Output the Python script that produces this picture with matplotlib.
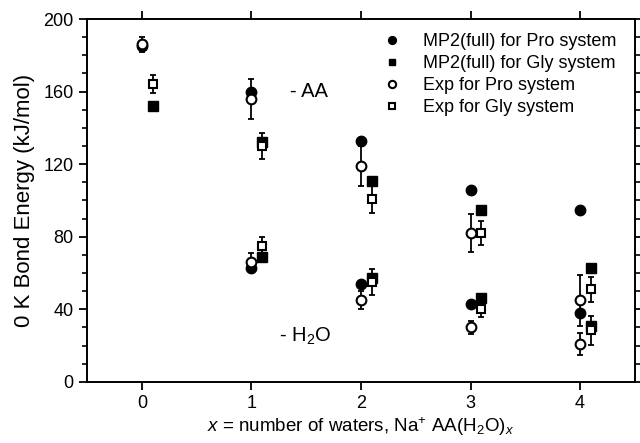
import numpy as np
import matplotlib
matplotlib.use('Agg')
import matplotlib.pyplot as plt
from matplotlib.ticker import MultipleLocator

plt.rcParams['font.family'] = ['Liberation Sans', 'DejaVu Sans']
plt.rcParams['mathtext.fontset'] = 'custom'
plt.rcParams['mathtext.rm'] = 'Liberation Sans'
plt.rcParams['mathtext.it'] = 'Liberation Sans:italic'

# number of waters
x = np.array([0, 1, 2, 3, 4])
gly_shift = 0.1

# loss of amino acid (upper set)
mp2_pro_aa = [185, 160, 133, 106, 95]
mp2_gly_aa = [152, 132, 111, 95, 63]
exp_pro_aa = [186, 156, 119, 82, 45]
exp_pro_aa_err = [4, 11, 11, 10.5, 14]
exp_gly_aa = [164, 130, 101, 82, 51]
exp_gly_aa_err = [5, 7, 8, 6.5, 7]

# loss of water (lower set), no water at x=0
mp2_pro_w = [np.nan, 63, 54, 43, 38]
mp2_gly_w = [np.nan, 69, 57, 46, 31]
exp_pro_w = [np.nan, 66, 45, 30, 21]
exp_pro_w_err = [np.nan, 5, 5, 3.7, 6]
exp_gly_w = [np.nan, 75, 55, 40, 28.5]
exp_gly_w_err = [np.nan, 5, 7, 4, 8]

fig = plt.figure(figsize=(6.4, 4.43), dpi=100)
ax = fig.add_axes([0.136, 0.138, 0.856, 0.819])

eb = dict(fmt='none', ecolor='black', elinewidth=1.3, capsize=2.5, capthick=1.3, zorder=2)
ax.errorbar(x, exp_pro_aa, yerr=exp_pro_aa_err, **eb)
ax.errorbar(x, exp_pro_w, yerr=exp_pro_w_err, **eb)
ax.errorbar(x + gly_shift, exp_gly_aa, yerr=exp_gly_aa_err, **eb)
ax.errorbar(x + gly_shift, exp_gly_w, yerr=exp_gly_w_err, **eb)

ax.plot(x, mp2_pro_aa, 'o', color='black', ms=7.5, zorder=3, label='MP2(full) for Pro system')
ax.plot(x, mp2_pro_w, 'o', color='black', ms=7.5, zorder=3)
ax.plot(x + gly_shift, mp2_gly_aa, 's', color='black', ms=6.5, zorder=3, label='MP2(full) for Gly system')
ax.plot(x + gly_shift, mp2_gly_w, 's', color='black', ms=6.5, zorder=3)
ax.plot(x, exp_pro_aa, 'o', mfc='white', mec='black', mew=1.5, ms=7, zorder=4, label='Exp for Pro system')
ax.plot(x, exp_pro_w, 'o', mfc='white', mec='black', mew=1.5, ms=7, zorder=4)
ax.plot(x + gly_shift, exp_gly_aa, 's', mfc='white', mec='black', mew=1.5, ms=6, zorder=4, label='Exp for Gly system')
ax.plot(x + gly_shift, exp_gly_w, 's', mfc='white', mec='black', mew=1.5, ms=6, zorder=4)

ax.text(1.35, 160, '- AA', fontsize=14.5, va='center', ha='left')
ax.text(1.25, 25, '- H$_2$O', fontsize=14.5, va='center', ha='left')

ax.set_xlim(-0.5, 4.5)
ax.set_ylim(0, 200)
ax.set_xticks(x)
ax.yaxis.set_major_locator(MultipleLocator(40))
ax.yaxis.set_minor_locator(MultipleLocator(10))
ax.tick_params(axis='both', which='major', direction='out', length=6, width=1.3, labelsize=13,
               top=True, right=True)
ax.tick_params(axis='y', which='minor', direction='out', length=3.5, width=1.2, right=True)
for s in ax.spines.values():
    s.set_linewidth(1.4)

ax.set_xlabel('$x$ = number of waters, Na$^{+}$ AA(H$_2$O)$_x$', fontsize=13.5, labelpad=2)
ax.set_ylabel('0 K Bond Energy (kJ/mol)', fontsize=16, labelpad=6)

ax.legend(loc='upper left', frameon=False, fontsize=13, markerscale=0.75,
          handlelength=1.0, handletextpad=1.2, labelspacing=0.28,
          borderaxespad=0, borderpad=0,
          bbox_to_anchor=(383 / 640, 1 - 33 / 443), bbox_transform=fig.transFigure)

fig.savefig('out.png', dpi=100)
